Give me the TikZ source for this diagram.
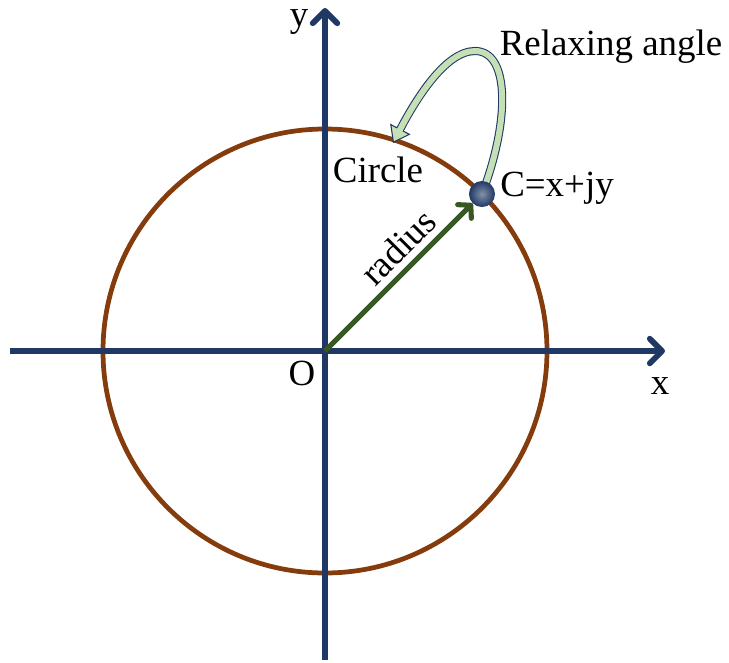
\documentclass[tikz,border=0pt]{standalone}
\usepackage{fontspec}
\setmainfont{Liberation Serif}
\usetikzlibrary{arrows.meta}
\definecolor{axisblue}{RGB}{31,56,100}
\definecolor{circlebrown}{RGB}{132,60,12}
\definecolor{radiusgreen}{RGB}{56,87,35}
\definecolor{relaxgreen}{RGB}{197,224,180}

\tikzset{
  axis/.style={axisblue, line width=3.3pt, -{Straight Barb[length=7pt,width=14pt,line cap=round,line join=round]}},
  radiusline/.style={radiusgreen, line width=2.9pt, -{Straight Barb[length=5pt,width=11pt,line cap=round,line join=round]}},
  relaxout/.style={axisblue, line width=4.6pt, -{Triangle[length=9pt,width=13pt,fill=relaxgreen,line width'=0.6pt]}},
  relaxin/.style={relaxgreen, line width=3.4pt, shorten >=8pt},
  lbl/.style={inner sep=0pt, font=\fontsize{21}{25}\selectfont},
  cball/.style={circle, inner sep=0pt, minimum size=0.52cm, inner color=axisblue!55!white, outer color=axisblue}
}

\begin{document}
\begin{tikzpicture}[>=Latex,x=2cm,y=2cm]
\useasboundingbox (-3.25,-3.11) rectangle (4.04,3.51);
\coordinate (O) at (0,0);
\coordinate (xl) at (-3.15,0);
\coordinate (xr) at (3.40,0);
\coordinate (yb) at (0,-3.09);
\coordinate (yt) at (0,3.43);
\coordinate (C) at (45:2.22);
\coordinate (relaxtip) at (0.68,2.08);
\draw[circlebrown, line width=2.7pt] (O) circle (2.22);
\draw[axis] (xl) -- (xr);
\draw[axis] (yb) -- (yt);
\draw[relaxout] (C) .. controls (1.85,2.3) and (1.85,3.0) .. (1.5,3.0) .. controls (1.2,3.0) and (0.9,2.5) .. (relaxtip);
\draw[relaxin] (C) .. controls (1.85,2.3) and (1.85,3.0) .. (1.5,3.0) .. controls (1.2,3.0) and (0.9,2.5) .. (relaxtip);
\node[cball] (Cball) at (C) {};
\draw[radiusline] (O) -- (Cball);
\node[lbl] (olbl) at (-0.23,-0.22) {O};
\node[lbl] (xlbl) at (3.35,-0.35) {x};
\node[lbl] (ylbl) at (-0.26,3.29) {y};
\node[lbl] (circlelbl) at (0.53,1.81) {Circle};
\node[lbl] (clbl) at (2.32,1.63) {C=x+jy};
\node[lbl] (relaxlbl) at (2.86,3.04) {Relaxing angle};
\node[lbl, rotate=45] (radiuslbl) at (0.73,1.04) {radius};
\end{tikzpicture}
\end{document}
